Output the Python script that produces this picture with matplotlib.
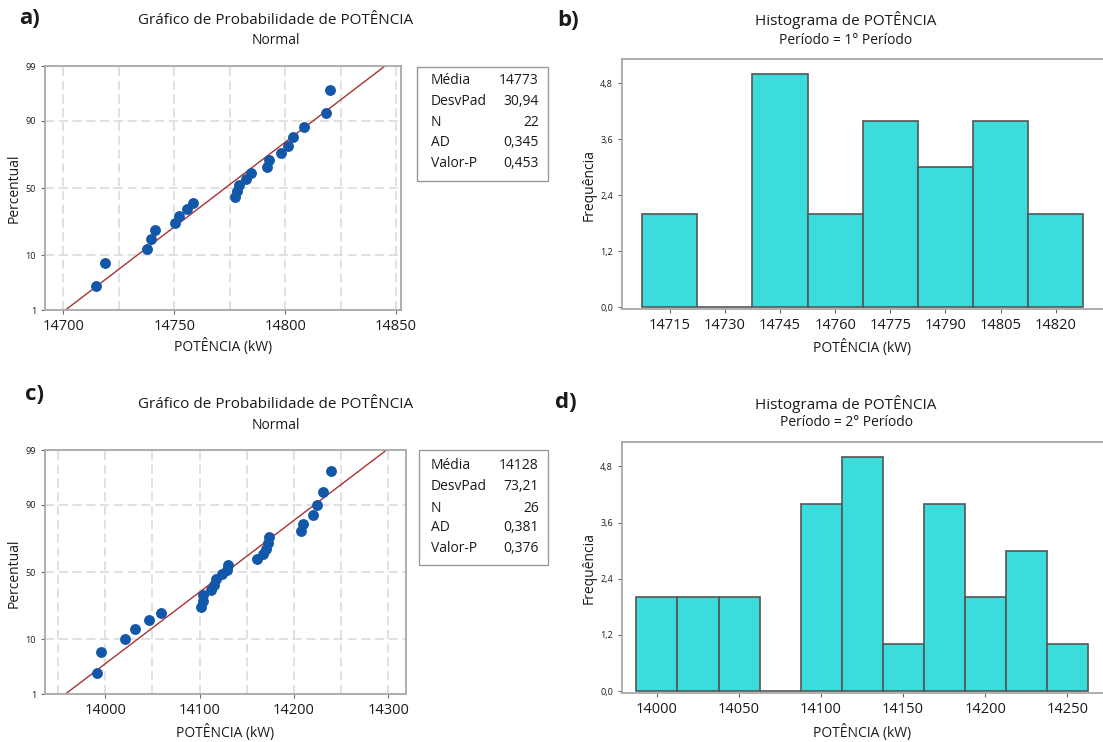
import matplotlib.pyplot as plt
import numpy as np
from matplotlib.patches import Rectangle
from statistics import NormalDist

plt.rcParams['font.family'] = ['Open Sans', 'DejaVu Sans']
plt.rcParams['font.weight'] = 'medium'
plt.rcParams['text.color'] = '#1A1A1A'
plt.rcParams['xtick.labelcolor'] = '#1A1A1A'
plt.rcParams['ytick.labelcolor'] = '#1A1A1A'

# 1o periodo - potencia (kW)
pot1 = [14714.6, 14719.0, 14737.9, 14739.7, 14741.5, 14750.5, 14752.3, 14755.9,
        14758.6, 14777.4, 14778.2, 14779.4, 14782.3, 14784.5, 14791.7, 14792.7,
        14798.0, 14801.2, 14803.7, 14808.3, 14818.2, 14820.0]
mean1, sd1 = 14773, 30.94
stats1 = ['14773', '30,94', '22', '0,345', '0,453']
hist1_centers = [14715, 14730, 14745, 14760, 14775, 14790, 14805, 14820]
hist1_counts = [2, 0, 5, 2, 4, 3, 4, 2]

# 2o periodo
pot2 = [13991.5, 13995.8, 14021.2, 14031.8, 14046.6, 14059.4, 14101.5, 14103.3,
        14103.9, 14112.0, 14115.6, 14117.1, 14123.4, 14128.7, 14129.8, 14161.2,
        14167.6, 14170.4, 14172.9, 14173.5, 14207.8, 14210.0, 14220.6, 14224.8,
        14231.2, 14239.7]
mean2, sd2 = 14128, 73.21
stats2 = ['14128', '73,21', '26', '0,381', '0,376']
hist2_centers = [14000, 14025, 14050, 14075, 14100, 14125, 14150, 14175, 14200, 14225, 14250]
hist2_counts = [2, 2, 2, 0, 4, 5, 1, 4, 2, 3, 1]

stat_names = ['Média', 'DesvPad', 'N', 'AD', 'Valor-P']
pct_ticks = [1, 10, 50, 90, 99]
freq_ticks = [0.0, 1.2, 2.4, 3.6, 4.8]

W, H = 1103, 742
nd = NormalDist()
grid_style = dict(color='#D9D9D9', lw=1.1, ls=(0, (6, 3)), zorder=1)


def rect(l, t, r, b):
    return [l / W, 1 - b / H, (r - l) / W, (b - t) / H]


def ftext(x, y, s, **kw):
    kw.setdefault('ha', 'center')
    kw.setdefault('va', 'center')
    fig.text(x / W, 1 - y / H, s, **kw)


def frame(ax):
    for sp in ax.spines.values():
        sp.set_color('#A8A8A8')
        sp.set_linewidth(1.3)
    ax.tick_params(length=3, width=0.8, color='#666666')


def prob_plot(ax, data, mean, sd, xlim, grid_x, ticks_x):
    n = len(data)
    x = np.sort(data)
    # posicoes de Minitab (postos medianos)
    z = [nd.inv_cdf((i - 0.3) / (n + 0.4)) for i in range(1, n + 1)]
    zlo, zhi = nd.inv_cdf(0.01), nd.inv_cdf(0.99)
    for g in grid_x:
        ax.axvline(g, **grid_style)
    for p in [10, 50, 90]:
        ax.axhline(nd.inv_cdf(p / 100), **grid_style)
    ax.plot([mean + sd * zlo, mean + sd * zhi], [zlo, zhi], color='#A83232', lw=1, zorder=2)
    ax.plot(x, z, 'o', color='#1257A8', ms=6.8, zorder=3)
    ax.set_xlim(xlim)
    ax.set_ylim(zlo, zhi)
    ax.set_yticks([nd.inv_cdf(p / 100) for p in pct_ticks])
    ax.set_yticklabels([str(p) for p in pct_ticks], fontsize=6.5)
    ax.set_xticks(ticks_x)
    ax.set_xticklabels([str(t) for t in ticks_x], fontsize=10.5)
    frame(ax)


def hist_plot(ax, centers, counts, width, xticks, xlim):
    ax.bar(centers, counts, width=width, color='#3CDCDD', edgecolor='#555555', linewidth=1.2, zorder=2)
    ax.set_xlim(xlim)
    ax.set_ylim(-0.04, 5.32)
    ax.set_yticks(freq_ticks)
    ax.set_yticklabels([f'{v:.1f}'.replace('.', ',') for v in freq_ticks], fontsize=6.5)
    ax.set_xticks(xticks)
    ax.set_xticklabels([str(c) for c in xticks], fontsize=10.5)
    frame(ax)
    ax.spines['right'].set_visible(False)


def stat_box(l, t, r, b, rows_y, values):
    fig.add_artist(Rectangle((l / W, 1 - b / H), (r - l) / W, (b - t) / H,
                             transform=fig.transFigure, fill=False, edgecolor='#999999', lw=1))
    for name, val, y in zip(stat_names, values, rows_y):
        ftext(431, y, name, ha='left', fontsize=10)
        ftext(539, y, val, ha='right', fontsize=10)


fig = plt.figure(figsize=(W / 100, H / 100), dpi=100)

# a) grafico de probabilidade 1o periodo
ax_a = fig.add_axes(rect(45, 66, 401, 310))
prob_plot(ax_a, pot1, mean1, sd1, (14691.8, 14852.2),
          [14700, 14725, 14750, 14775, 14800, 14825, 14850], [14700, 14750, 14800, 14850])
stat_box(417, 67, 548, 181, [80, 101.5, 123, 142.5, 163.5], stats1)

# b) histograma 1o periodo
ax_b = fig.add_axes(rect(622, 59, 1106, 309))
hist_plot(ax_b, hist1_centers, hist1_counts, 15, hist1_centers, (14702.0, 14833.7))

# c) grafico de probabilidade 2o periodo
ax_c = fig.add_axes(rect(45, 450, 405.5, 694))
prob_plot(ax_c, pot2, mean2, sd2, (13936, 14318.4),
          [13950, 14000, 14050, 14100, 14150, 14200, 14250, 14300], [14000, 14100, 14200, 14300])
stat_box(419, 450, 548, 565, [466, 487, 508, 527.5, 549], stats2)

# d) histograma 2o periodo
ax_d = fig.add_axes(rect(622, 442, 1106, 693))
hist_plot(ax_d, hist2_centers, hist2_counts, 25, hist2_centers[::2], (13978.7, 14273.6))

# titulos e rotulos
ftext(30, 19, 'a)', fontsize=16, fontweight='bold')
ftext(568, 21, 'b)', fontsize=16, fontweight='bold')
ftext(34, 395, 'c)', fontsize=16, fontweight='bold')
ftext(566, 402, 'd)', fontsize=16, fontweight='bold')

for y0 in [0, 384]:
    ftext(276, 20 + y0, 'Gráfico de Probabilidade de POTÊNCIA', fontsize=11)
    ftext(276, 41 + y0, 'Normal', fontsize=10)
ftext(846, 20, 'Histograma de POTÊNCIA', fontsize=11)
ftext(846, 41, 'Período = 1° Período', fontsize=10)
ftext(846, 404, 'Histograma de POTÊNCIA', fontsize=11)
ftext(846, 423, 'Período = 2° Período', fontsize=10)

ftext(14, 188, 'Percentual', rotation=90, fontsize=10)
ftext(14, 573, 'Percentual', rotation=90, fontsize=10)
ftext(223, 347, 'POTÊNCIA (kW)', fontsize=10)
ftext(225, 732, 'POTÊNCIA (kW)', fontsize=10)
ftext(589, 185, 'Frequência', rotation=90, fontsize=10)
ftext(589, 568, 'Frequência', rotation=90, fontsize=10)
ftext(862, 348, 'POTÊNCIA (kW)', fontsize=10)
ftext(862, 732, 'POTÊNCIA (kW)', fontsize=10)

plt.savefig('out.png', dpi=100)
